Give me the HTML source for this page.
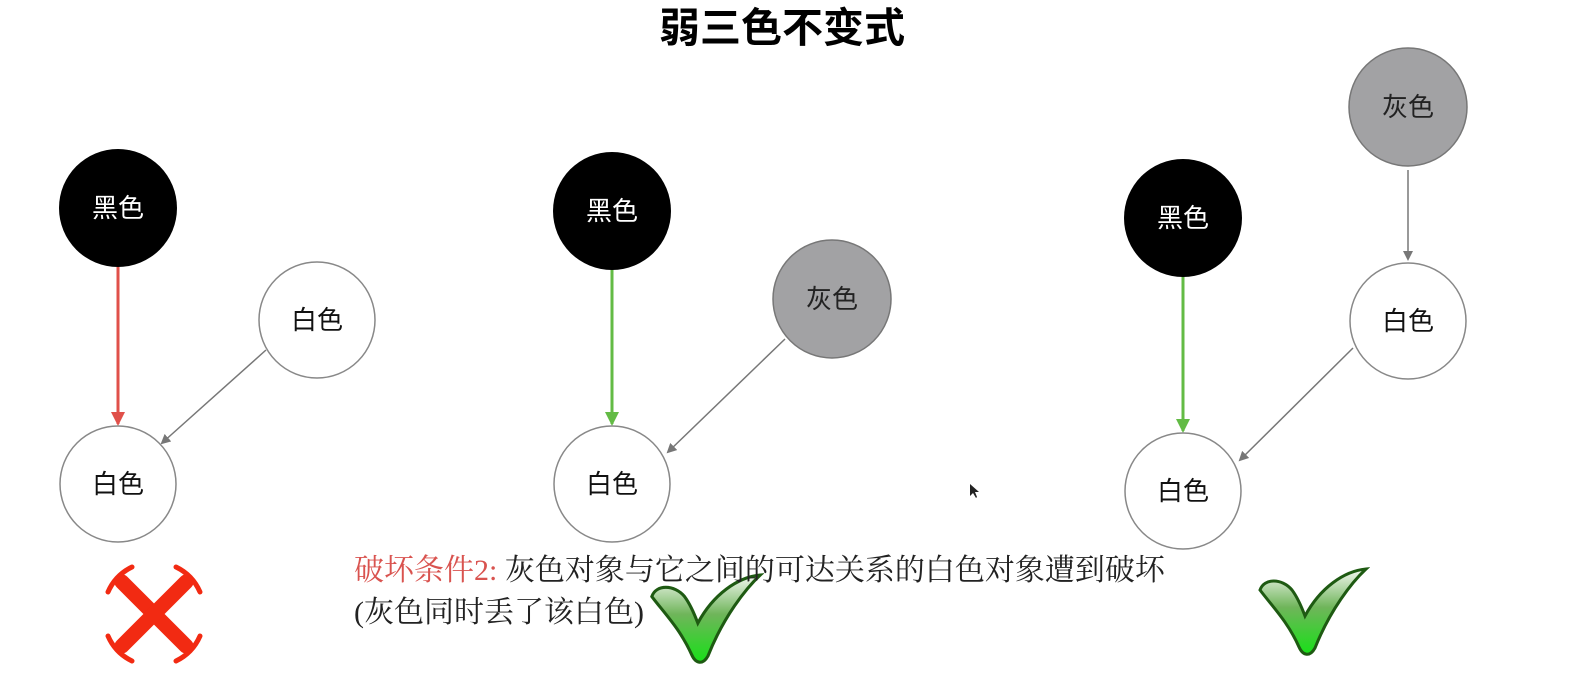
<!DOCTYPE html>
<html><head><meta charset="utf-8"><style>
html,body{margin:0;padding:0;background:#fff;}
body{width:1582px;height:680px;position:relative;overflow:hidden;}
svg{position:absolute;left:0;top:0;}
</style></head><body>
<svg width="1582" height="680" viewBox="0 0 1582 680" xmlns="http://www.w3.org/2000/svg">
<defs>
<marker id="ag" markerWidth="10" markerHeight="10" refX="8" refY="5" orient="auto" markerUnits="userSpaceOnUse"><path d="M0,0 L10,5 L0,10 Z" fill="#777"/></marker>
<marker id="ar" markerWidth="14" markerHeight="14" refX="12" refY="7" orient="auto" markerUnits="userSpaceOnUse"><path d="M0,0 L14,7 L0,14 Z" fill="#e0504a"/></marker>
<marker id="agr" markerWidth="14" markerHeight="14" refX="12" refY="7" orient="auto" markerUnits="userSpaceOnUse"><path d="M0,0 L14,7 L0,14 Z" fill="#63bb45"/></marker>
<linearGradient id="cg" x1="0" y1="0" x2="0" y2="1"><stop offset="0" stop-color="#f4f8f2"/><stop offset="0.45" stop-color="#6fb55a"/><stop offset="1" stop-color="#18e018"/></linearGradient>
<symbol id="chk" viewBox="0 0 110 90"><path d="M2,24 C6,12 24,12 34,24 C40,32 44,42 47,50 C62,22 86,5 108,3 C94,16 72,44 57,82 C52,91 45,90 41,81 C30,56 14,40 2,24Z" fill="url(#cg)" stroke="#1e5a12" stroke-width="3"/></symbol>
</defs>
<text x="782" y="42" font-family="'Liberation Sans','Noto Sans CJK SC',sans-serif" font-size="41" font-weight="bold" text-anchor="middle" fill="#000">弱三色不变式</text>
<g font-family="'Liberation Sans','Noto Sans CJK SC',sans-serif" font-size="26" text-anchor="middle">
<line x1="118" y1="267" x2="118" y2="424" stroke="#e0504a" stroke-width="3" marker-end="url(#ar)"/>
<line x1="266" y1="350" x2="162" y2="443" stroke="#777" stroke-width="1.5" marker-end="url(#ag)"/>
<circle cx="118" cy="208" r="59" fill="#000"/><text x="118" y="217" fill="#fff">黑色</text>
<circle cx="317" cy="320" r="58" fill="#fff" stroke="#888" stroke-width="1.5"/><text x="317" y="329" fill="#111">白色</text>
<circle cx="118" cy="484" r="58" fill="#fff" stroke="#888" stroke-width="1.5"/><text x="118" y="493" fill="#111">白色</text>
<line x1="612" y1="268" x2="612" y2="424" stroke="#63bb45" stroke-width="3" marker-end="url(#agr)"/>
<line x1="785" y1="339" x2="668" y2="452" stroke="#777" stroke-width="1.5" marker-end="url(#ag)"/>
<circle cx="612" cy="211" r="59" fill="#000"/><text x="612" y="220" fill="#fff">黑色</text>
<circle cx="832" cy="299" r="59" fill="#a2a2a4" stroke="#777" stroke-width="1.5"/><text x="832" y="308" fill="#222">灰色</text>
<circle cx="612" cy="484" r="58" fill="#fff" stroke="#888" stroke-width="1.5"/><text x="612" y="493" fill="#111">白色</text>
<line x1="1408" y1="170" x2="1408" y2="259" stroke="#777" stroke-width="1.5" marker-end="url(#ag)"/>
<line x1="1183" y1="276" x2="1183" y2="431" stroke="#63bb45" stroke-width="3" marker-end="url(#agr)"/>
<line x1="1353" y1="348" x2="1240" y2="460" stroke="#777" stroke-width="1.5" marker-end="url(#ag)"/>
<circle cx="1408" cy="107" r="59" fill="#a2a2a4" stroke="#777" stroke-width="1.5"/><text x="1408" y="116" fill="#222">灰色</text>
<circle cx="1183" cy="218" r="59" fill="#000"/><text x="1183" y="227" fill="#fff">黑色</text>
<circle cx="1408" cy="321" r="58" fill="#fff" stroke="#888" stroke-width="1.5"/><text x="1408" y="330" fill="#111">白色</text>
<circle cx="1183" cy="491" r="58" fill="#fff" stroke="#888" stroke-width="1.5"/><text x="1183" y="500" fill="#111">白色</text>
</g>
<g stroke="#f22a12" fill="none" stroke-linecap="round">
<line x1="122" y1="582" x2="186" y2="646" stroke-width="15"/>
<line x1="186" y1="582" x2="122" y2="646" stroke-width="15"/>
<g stroke-width="5">
<path d="M108,592 A50,50 0 0 1 132,567"/>
<path d="M176,567 A50,50 0 0 1 200,592"/>
<path d="M200,636 A50,50 0 0 1 176,661"/>
<path d="M132,661 A50,50 0 0 1 108,636"/>
</g>
</g>
<use href="#chk" x="648" y="572" width="116" height="92"/>
<use href="#chk" x="1256" y="566" width="114" height="90"/>
<text x="354" y="580" font-family="'Liberation Serif','Noto Serif CJK SC',serif" font-size="30" fill="#222"><tspan fill="#d9534f">破坏条件2:</tspan> 灰色对象与它之间的可达关系的白色对象遭到破坏</text>
<text x="354" y="622" font-family="'Liberation Serif','Noto Serif CJK SC',serif" font-size="30" fill="#222">(灰色同时丢了该白色)</text>
<path d="M970,484 L970,496 L973,493 L976,498 L977,497 L975,492 L979,492 Z" fill="#222"/>
</svg>
</body></html>
